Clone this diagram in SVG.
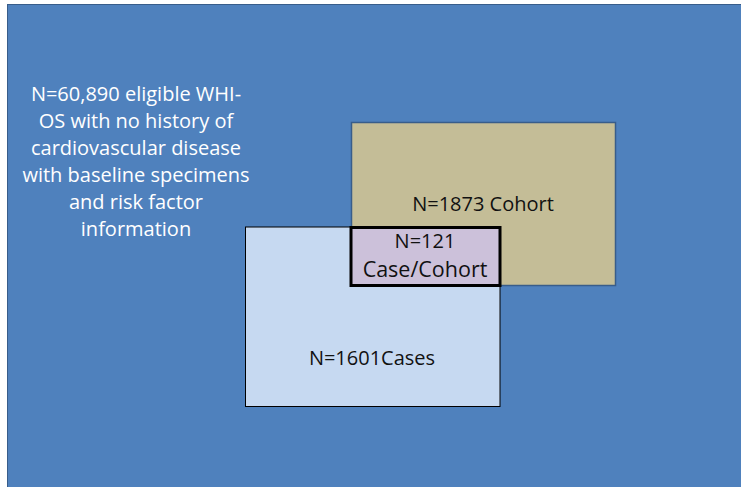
<svg xmlns="http://www.w3.org/2000/svg" width="741" height="487" viewBox="0 0 741 487">
<style>
.t{font-family:"Open Sans","Liberation Sans",sans-serif;font-size:20px;text-anchor:middle}
.w{fill:#ffffff}
.k{fill:#111111}
</style>
<rect x="0" y="0" width="741" height="487" fill="#ffffff"/>
<g id="background">
<rect x="7.5" y="4.5" width="740" height="490" fill="#4F81BD" stroke="#385D8A" stroke-width="1"/>
<text class="t w"><tspan x="136" y="101">N=60,890 eligible WHI-</tspan><tspan x="136" y="128">OS with no history of</tspan><tspan x="136" y="155">cardiovascular disease</tspan><tspan x="136" y="182">with baseline specimens</tspan><tspan x="136" y="209">and risk factor</tspan><tspan x="136" y="236">information</tspan></text>
</g>
<g id="cohort">
<rect x="351.5" y="122.5" width="264" height="163" fill="#C4BD97" stroke="#385D8A" stroke-width="1.5"/>
<text class="t k" x="483" y="211">N=1873 Cohort</text>
</g>
<g id="cases">
<rect x="245.5" y="227" width="254.5" height="179.5" fill="#C6D9F1" stroke="#000" stroke-width="1"/>
<text class="t k" x="372" y="365">N=1601Cases</text>
</g>
<g id="casecohort">
<rect x="351" y="227.5" width="149" height="58" fill="#CCC1DA" stroke="#000" stroke-width="3"/>
<text class="t k" x="425" y="248">N=121</text>
<text class="t k" x="425" y="277" style="font-size:21.5px">Case/Cohort</text>
</g>
<g id="connectors"/>
</svg>
